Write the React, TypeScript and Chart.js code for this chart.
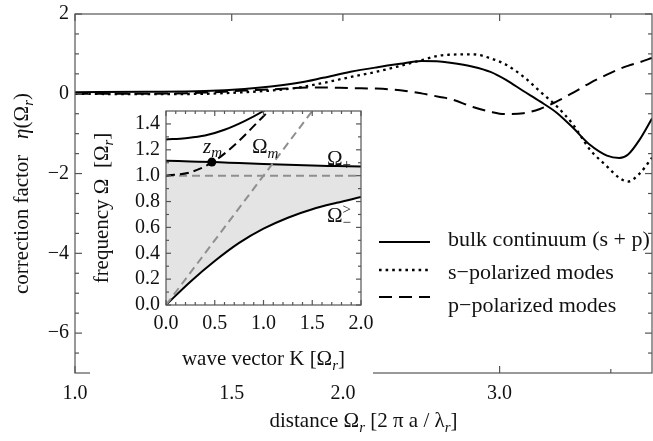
import React, { useEffect, useRef } from 'react';
import { Chart, registerables } from 'chart.js';

Chart.register(...registerables);

const FONT = '"Liberation Serif", "Times New Roman", Times, serif';

// ---------- main chart data ----------
const distance = [1.0, 1.2, 1.4, 1.55, 1.66, 1.79, 1.9, 2.04, 2.18, 2.32, 2.45, 2.57, 2.64, 2.8, 2.93, 3.05, 3.19, 3.33, 3.48, 3.63, 3.79, 3.96, 4.09, 4.18, 4.31, 4.45];
const bulkContinuum = [0.04, 0.05, 0.07, 0.12, 0.18, 0.28, 0.4, 0.55, 0.66, 0.75, 0.82, 0.81, 0.78, 0.68, 0.55, 0.35, 0.07, -0.19, -0.48, -0.86, -1.28, -1.55, -1.61, -1.53, -1.15, -0.62];
const sPolarized = [0.0, -0.01, 0.0, 0.04, 0.08, 0.16, 0.27, 0.42, 0.55, 0.7, 0.84, 0.96, 0.98, 0.99, 0.89, 0.73, 0.43, 0.06, -0.32, -0.78, -1.4, -1.82, -2.11, -2.2, -2.0, -1.6];
const pPolarized = [0.0, 0.0, 0.03, 0.08, 0.11, 0.15, 0.16, 0.14, 0.13, 0.09, 0.01, -0.08, -0.13, -0.33, -0.45, -0.51, -0.49, -0.38, -0.19, 0.03, 0.27, 0.48, 0.62, 0.7, 0.79, 0.9];
const seriesLabels = ['bulk continuum (s + p)', 's\u2212polarized modes', 'p\u2212polarized modes'];
const distanceTicks = [1.0, 1.5, 2.0, 3.0];
const distanceMinorTicks = [4.0];
const factorTicks = [-6, -4, -2, 0, 2];
const factorMinorTicks = [-6.5, -5.5, -5, -4.5, -3.5, -3, -2.5, -1.5, -1, -0.5, 0.5, 1, 1.5];

// ---------- inset data ----------
const waveK = [0, 0.25, 0.5, 0.75, 1.0, 1.25, 1.5, 1.75, 2.0];
const omegaMinus = [0, 0.18, 0.34, 0.48, 0.59, 0.675, 0.74, 0.79, 0.835];
const omegaPlus = [1.115, 1.11, 1.105, 1.097, 1.09, 1.084, 1.078, 1.074, 1.07];
const upperK = [0, 0.2, 0.4, 0.6, 0.8, 1.0, 1.1];
const upperOmega = [1.28, 1.29, 1.31, 1.355, 1.42, 1.5, 1.55];
const modeK = [0, 0.25, 0.5, 0.75, 1.0, 1.1, 1.2];
const modeOmega = [1.0, 1.026, 1.115, 1.27, 1.46, 1.53, 1.6];
const lightK = [0, 1.6];
const lightOmega = [0, 1.6];
const edgeK = [0, 2];
const edgeOmega = [1, 1];
const zmK = [0.47];
const zmOmega = [1.105];
const waveTicks = [0, 0.5, 1.0, 1.5, 2.0];
const waveMinorTicks = [0.1, 0.2, 0.3, 0.4, 0.6, 0.7, 0.8, 0.9, 1.1, 1.2, 1.3, 1.4, 1.6, 1.7, 1.8, 1.9];
const freqTicks = [0, 0.2, 0.4, 0.6, 0.8, 1.0, 1.2, 1.4];
const freqMinorTicks = [0.1, 0.3, 0.5, 0.7, 0.9, 1.1, 1.3];

// ---------- rich text helpers ----------
type Run = { t: string; it?: boolean; sub?: boolean; sup?: boolean; stay?: boolean };
function runFont(r: Run, size: number) {
  const s = r.sub || r.sup ? Math.round(size * 0.7) : size;
  return `${r.it ? 'italic ' : ''}${s}px ${FONT}`;
}
function runsWidth(ctx: CanvasRenderingContext2D, runs: Run[], size: number) {
  let w = 0;
  for (const r of runs) {
    ctx.font = runFont(r, size);
    if (!r.stay) w += ctx.measureText(r.t).width;
  }
  return w;
}
function drawRuns(ctx: CanvasRenderingContext2D, runs: Run[], x: number, y: number, size: number, align: 'left' | 'center') {
  let cx = align === 'center' ? x - runsWidth(ctx, runs, size) / 2 : x;
  ctx.textBaseline = 'alphabetic';
  ctx.textAlign = 'left';
  for (const r of runs) {
    ctx.font = runFont(r, size);
    const dy = r.sub ? size * 0.22 : r.sup ? -size * 0.4 : 0;
    ctx.fillText(r.t, cx, y + dy);
    if (!r.stay) cx += ctx.measureText(r.t).width;
  }
}

const mainTitleX: Run[] = [{ t: 'distance \u03A9' }, { t: 'r', it: true, sub: true }, { t: ' [2 \u03C0 a / \u03BB' }, { t: 'r', it: true, sub: true }, { t: ']' }];
const mainTitleY: Run[] = [{ t: 'correction factor   ' }, { t: '\u03B7', it: true }, { t: '(\u03A9' }, { t: 'r', it: true, sub: true }, { t: ')' }];
const insetTitleX: Run[] = [{ t: 'wave vector K [\u03A9' }, { t: 'r', it: true, sub: true }, { t: ']' }];
const insetTitleY: Run[] = [{ t: 'frequency \u03A9  [\u03A9' }, { t: 'r', it: true, sub: true }, { t: ']' }];

// ---------- plugins ----------
function frameTicks(cfg: { xMajor: number[]; xMinor: number[]; yMajor: number[]; yMinor: number[]; major: number; minor: number }) {
  return {
    id: 'frameTicks',
    afterDatasetsDraw(chart: any) {
      const { ctx, chartArea: a } = chart;
      const xs = chart.scales.x;
      const ys = chart.scales.y;
      ctx.save();
      ctx.strokeStyle = '#555';
      ctx.lineWidth = 1.2;
      const seg = (x1: number, y1: number, x2: number, y2: number) => {
        ctx.beginPath();
        ctx.moveTo(x1, y1);
        ctx.lineTo(x2, y2);
        ctx.stroke();
      };
      const xt = (vals: number[], len: number) =>
        vals.forEach((v) => {
          const p = xs.getPixelForValue(v);
          seg(p, a.bottom, p, a.bottom - len);
          seg(p, a.top, p, a.top + len);
        });
      const yt = (vals: number[], len: number) =>
        vals.forEach((v) => {
          const p = ys.getPixelForValue(v);
          seg(a.left, p, a.left + len, p);
          seg(a.right, p, a.right - len, p);
        });
      xt(cfg.xMajor, cfg.major);
      xt(cfg.xMinor, cfg.minor);
      yt(cfg.yMajor, cfg.major);
      yt(cfg.yMinor, cfg.minor);
      ctx.strokeRect(a.left, a.top, a.right - a.left, a.bottom - a.top);
      ctx.restore();
    },
  };
}

function titles(cfg: { x: Run[]; y: Run[]; xBaseline: number; yBaseline: number; size: number }) {
  return {
    id: 'titles',
    afterDraw(chart: any) {
      const { ctx, chartArea: a } = chart;
      ctx.save();
      ctx.fillStyle = '#111';
      drawRuns(ctx, cfg.x, (a.left + a.right) / 2, cfg.xBaseline, cfg.size, 'center');
      ctx.translate(cfg.yBaseline, (a.top + a.bottom) / 2);
      ctx.rotate(-Math.PI / 2);
      drawRuns(ctx, cfg.y, 0, 0, cfg.size, 'center');
      ctx.restore();
    },
  };
}

const legendPlugin = {
  id: 'customLegend',
  afterDraw(chart: any) {
    const { ctx } = chart;
    const lineX0 = 379;
    const lineX1 = 430;
    const textX = 448;
    const lineY = [242, 270, 297];
    const textY = [246, 279, 312];
    ctx.save();
    chart.data.datasets.forEach((ds: any, i: number) => {
      ctx.strokeStyle = ds.borderColor;
      ctx.lineWidth = ds.borderWidth;
      ctx.setLineDash(ds.borderDash || []);
      ctx.beginPath();
      ctx.moveTo(lineX0, lineY[i]);
      ctx.lineTo(lineX1, lineY[i]);
      ctx.stroke();
      ctx.setLineDash([]);
      ctx.fillStyle = '#111';
      ctx.font = `22px ${FONT}`;
      ctx.textAlign = 'left';
      ctx.textBaseline = 'alphabetic';
      ctx.fillText(ds.label, textX, textY[i]);
    });
    ctx.restore();
  },
};

const insetLabels = {
  id: 'insetLabels',
  afterDraw(chart: any) {
    const { ctx } = chart;
    const xs = chart.scales.x;
    const ys = chart.scales.y;
    const items: { runs: Run[]; k: number; w: number }[] = [
      { runs: [{ t: 'z', it: true }, { t: 'm', it: true, sub: true }], k: 0.38, w: 1.178 },
      { runs: [{ t: '\u03A9' }, { t: 'm', it: true, sub: true }], k: 0.882, w: 1.176 },
      { runs: [{ t: '\u03A9' }, { t: '+', sub: true }], k: 1.651, w: 1.085 },
      { runs: [{ t: '\u03A9' }, { t: '>', sup: true, stay: true }, { t: '\u2212', sub: true }], k: 1.651, w: 0.638 },
    ];
    ctx.save();
    ctx.fillStyle = '#111';
    items.forEach((it) => drawRuns(ctx, it.runs, xs.getPixelForValue(it.k), ys.getPixelForValue(it.w), 21, 'left'));
    ctx.restore();
  },
};

const pts = (xs: number[], ys: number[]) => xs.map((x, i) => ({ x, y: ys[i] }));

const fitBox = (w: number | null, h: number | null) => (s: any) => {
  if (w !== null) s.width = w;
  if (h !== null) s.height = h;
  s.paddingTop = 0;
  s.paddingBottom = 0;
  s.paddingLeft = 0;
  s.paddingRight = 0;
};

export default function App() {
  const mainRef = useRef<HTMLCanvasElement>(null);
  const insetRef = useRef<HTMLCanvasElement>(null);

  useEffect(() => {
    Chart.defaults.font.family = FONT;
    Chart.defaults.color = '#111';

    const lineBase = { pointRadius: 0, borderColor: '#000', borderWidth: 2, cubicInterpolationMode: 'monotone' as const, fill: false, borderCapStyle: 'butt' as const };

    const main = new Chart(mainRef.current!, {
      type: 'line',
      data: {
        datasets: [
          { ...lineBase, label: seriesLabels[0], data: pts(distance, bulkContinuum) },
          { ...lineBase, label: seriesLabels[1], data: pts(distance, sPolarized), borderDash: [2.6, 4], borderWidth: 2.3 },
          { ...lineBase, label: seriesLabels[2], data: pts(distance, pPolarized), borderDash: [13, 7] },
        ],
      },
      options: {
        responsive: false,
        animation: false,
        events: [],
        layout: { padding: { left: 0, top: 14, right: 1, bottom: 0 } },
        plugins: { legend: { display: false }, tooltip: { enabled: false } },
        scales: {
          x: {
            type: 'logarithmic',
            min: 1,
            max: 4.45,
            afterFit: fitBox(null, 68),
            afterBuildTicks: (s: any) => { s.ticks = distanceTicks.map((v) => ({ value: v })); },
            grid: { display: false, drawTicks: false },
            border: { display: false },
            ticks: { autoSkip: false, maxRotation: 0, padding: 9, font: { size: 20 }, color: '#111', callback: (v: any) => Number(v).toFixed(1) },
          },
          y: {
            type: 'linear',
            min: -7,
            max: 2,
            afterFit: fitBox(75, null),
            afterBuildTicks: (s: any) => { s.ticks = factorTicks.map((v) => ({ value: v })); },
            grid: { display: false, drawTicks: false },
            border: { display: false },
            ticks: { autoSkip: false, padding: 6, font: { size: 20 }, color: '#111', callback: (v: any) => (Number(v) < 0 ? '\u2212' + Math.abs(Number(v)) : String(v)) },
          },
        },
      },
      plugins: [
        frameTicks({ xMajor: distanceTicks, xMinor: distanceMinorTicks, yMajor: factorTicks, yMinor: factorMinorTicks, major: 7, minor: 4 }),
        titles({ x: mainTitleX, y: mainTitleY, xBaseline: 427, yBaseline: 28, size: 21 }),
        legendPlugin,
      ],
    } as any);

    const inset = new Chart(insetRef.current!, {
      type: 'line',
      data: {
        datasets: [
          { ...lineBase, label: 'zm', data: pts(zmK, zmOmega), showLine: false, pointRadius: 4.5, pointBackgroundColor: '#000', pointBorderWidth: 0 },
          { ...lineBase, label: 'upper', data: pts(upperK, upperOmega) },
          { ...lineBase, label: 'omega m', data: pts(modeK, modeOmega), borderDash: [9, 5] },
          { ...lineBase, label: 'light', data: pts(lightK, lightOmega), borderColor: '#8f8f8f', borderDash: [8, 5], cubicInterpolationMode: 'default', tension: 0 },
          { ...lineBase, label: 'edge', data: pts(edgeK, edgeOmega), borderColor: '#8f8f8f', borderDash: [8, 5], cubicInterpolationMode: 'default', tension: 0 },
          { ...lineBase, label: 'omega plus', data: pts(waveK, omegaPlus), fill: { target: 6 }, backgroundColor: '#e4e4e4' },
          { ...lineBase, label: 'omega minus', data: pts(waveK, omegaMinus) },
        ],
      },
      options: {
        responsive: false,
        animation: false,
        events: [],
        layout: { padding: { left: 0, top: 11, right: 12, bottom: 0 } },
        plugins: { legend: { display: false }, tooltip: { enabled: false }, filler: { drawTime: 'beforeDatasetsDraw' } },
        scales: {
          x: {
            type: 'linear',
            min: 0,
            max: 2,
            afterFit: fitBox(null, 73),
            afterBuildTicks: (s: any) => { s.ticks = waveTicks.map((v) => ({ value: v })); },
            grid: { display: false, drawTicks: false },
            border: { display: false },
            ticks: { autoSkip: false, maxRotation: 0, padding: 7, font: { size: 20 }, color: '#111', callback: (v: any) => Number(v).toFixed(1) },
          },
          y: {
            type: 'linear',
            min: 0,
            max: 1.5,
            afterFit: fitBox(76, null),
            afterBuildTicks: (s: any) => { s.ticks = freqTicks.map((v) => ({ value: v })); },
            grid: { display: false, drawTicks: false },
            border: { display: false },
            ticks: { autoSkip: false, padding: 6, font: { size: 20 }, color: '#111', callback: (v: any) => Number(v).toFixed(1) },
          },
        },
      },
      plugins: [
        frameTicks({ xMajor: waveTicks, xMinor: waveMinorTicks, yMajor: freqTicks, yMinor: freqMinorTicks, major: 5, minor: 3 }),
        titles({ x: insetTitleX, y: insetTitleY, xBaseline: 265, yBaseline: 18, size: 21 }),
        insetLabels,
      ],
    } as any);

    return () => {
      main.destroy();
      inset.destroy();
    };
  }, []);

  return (
    <div style={{ position: 'absolute', left: 0, top: 0, width: 653, height: 441, background: '#fff', overflow: 'hidden' }}>
      <canvas ref={mainRef} width={653} height={441} style={{ position: 'absolute', left: 0, top: 0, width: 653, height: 441 }} />
      <canvas ref={insetRef} width={283} height={278} style={{ position: 'absolute', left: 90, top: 100, width: 283, height: 278, background: '#fff' }} />
    </div>
  );
}
